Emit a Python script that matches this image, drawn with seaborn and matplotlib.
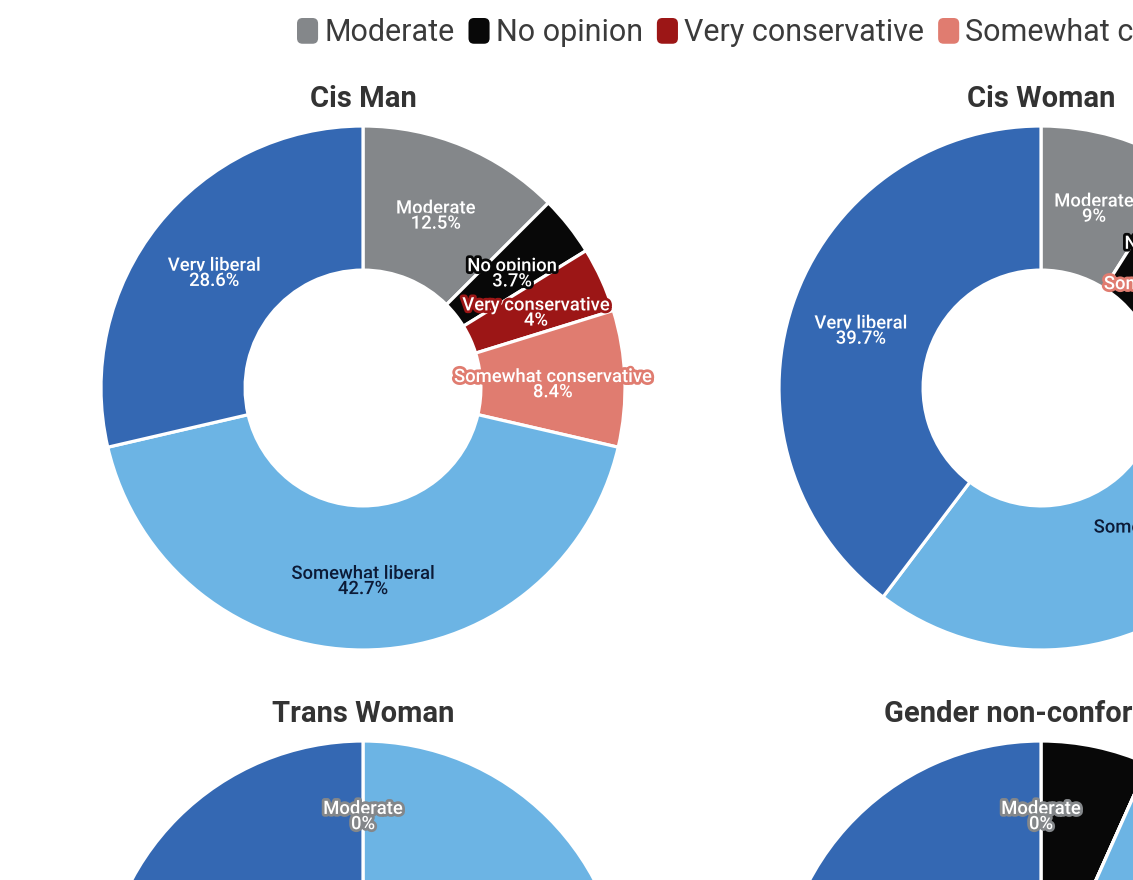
import matplotlib
matplotlib.use("Agg")
import matplotlib.pyplot as plt
import matplotlib.patheffects as pe
from matplotlib.patches import Patch, FancyBboxPatch
from matplotlib.legend_handler import HandlerPatch
from matplotlib.transforms import offset_copy
import seaborn as sns

# Data (in percent)
categories = ["Moderate", "No opinion", "Very conservative",
              "Somewhat conservative", "Somewhat liberal", "Very liberal"]
groups = ["Cis Man", "Cis Woman", "Trans Woman", "Gender non-conforming"]
cis_man = [12.5, 3.7, 4, 8.4, 42.7, 28.6]
cis_woman = [9, 5.6, 0.8, 1.6, 43.3, 39.7]
trans_woman = [0, 0, 0, 0, 50, 50]
gender_nc = [0, 6.7, 0, 0, 40, 53.3]

colors = ["#84878a", "#080808", "#9c1616", "#e07c70", "#6cb4e4", "#3468b3"]
label_colors = ["white", "white", "white", "white", "#0c1a36", "white"]


class RoundBox(HandlerPatch):
    # legend swatch with rounded corners
    def create_artists(self, legend, orig_handle, xdescent, ydescent,
                       width, height, fontsize, trans):
        p = FancyBboxPatch((-xdescent, -ydescent), width, height,
                           boxstyle="round,pad=0,rounding_size=4",
                           facecolor=orig_handle.get_facecolor(),
                           edgecolor="none", transform=trans)
        return [p]


sns.set_theme(style="white")
plt.rcParams["font.family"] = ["Roboto", "DejaVu Sans"]

W, H = 1133, 880
fig = plt.figure(figsize=(W / 100, H / 100), dpi=100)
fig.patch.set_facecolor("white")

R = 262  # outer radius in px
centers = [(363, 388), (1041, 388), (363, 1003), (1041, 1003)]
values = [cis_man, cis_woman, trans_woman, gender_nc]

all_texts = []
for name, vals, (cx, cy) in zip(groups, values, centers):
    ax = fig.add_axes([(cx - R) / W, 1 - (cy + R) / H, 2 * R / W, 2 * R / H])
    labels = [f"{c}\n{v:g}%" for c, v in zip(categories, vals)]
    wedges, texts = ax.pie(vals, colors=colors, startangle=90, counterclock=False,
                           radius=1, labels=labels, labeldistance=0.725,
                           wedgeprops=dict(width=0.55, edgecolor="white", linewidth=2.3))
    shift = offset_copy(ax.transData, fig=fig, x=0, y=-3.5, units="dots")
    for t, tc, wc in zip(texts, label_colors, colors):
        t.set_transform(shift)
        t.set_ha("center")
        t.set_va("center")
        t.set_fontsize(13.3)
        t.set_color(tc)
        t.set_linespacing(0.8)
        t.set_fontweight("medium")
        t.set_path_effects([pe.withStroke(linewidth=4, foreground=wc)])
    all_texts.append(texts)
    ax.set_xlim(-1, 1)
    ax.set_ylim(-1, 1)
    ax.set_axis_off()
    fig.text(cx / W, 1 - (cy - R - 19) / H, name, ha="center", va="baseline",
             fontsize=21, fontweight="bold", color="#333333")

# hide a slice label when it collides with an earlier one in the same chart
renderer = fig.canvas.get_renderer()
for texts in all_texts:
    kept = []
    for t in texts:
        bb = t.get_window_extent(renderer)
        if any(bb.overlaps(k) for k in kept):
            t.set_visible(False)
        else:
            kept.append(bb)

handles = [Patch(facecolor=c, label=l) for c, l in zip(colors, categories)]
leg = fig.legend(handles=handles, loc="upper left", bbox_to_anchor=(297 / W, 1 - 18 / H),
                 ncol=6, frameon=False, fontsize=22, handlelength=0.69, handleheight=0.92,
                 handletextpad=0.2, columnspacing=0.46, borderpad=0, borderaxespad=0,
                 handler_map={Patch: RoundBox()})
for t in leg.get_texts():
    t.set_color("#3b3b3b")

fig.savefig("out.png", dpi=100, facecolor="white")
